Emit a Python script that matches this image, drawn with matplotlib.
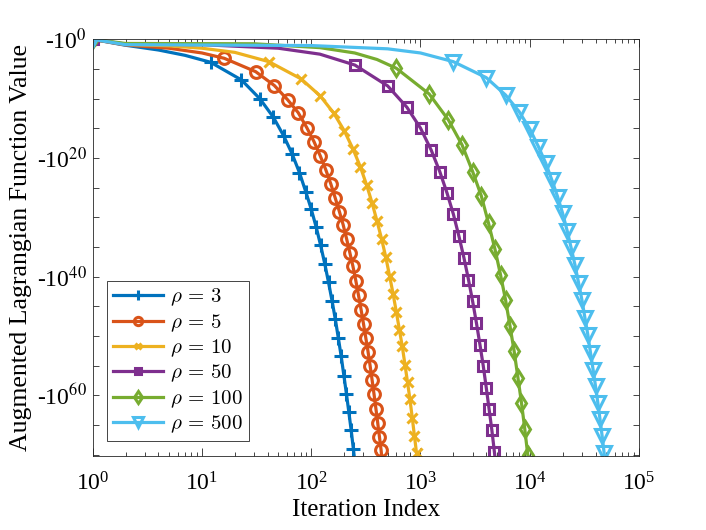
import numpy as np
import matplotlib.pyplot as plt
from matplotlib.font_manager import FontProperties
from matplotlib.ticker import FixedLocator, LogLocator, NullFormatter

plt.rcParams['font.family'] = ['Liberation Serif', 'DejaVu Serif']
plt.rcParams['mathtext.fontset'] = 'stix'

# rho values and marker spacing (iterations between markers)
rho = [3, 5, 10, 50, 100, 500]
mark_step = [11, 15, 40, 250, 600, 2000]

# exponent e of the function value -10^e, read at the markers (k = 1, 1+step, ...)
rho3_y = [0, 3.87, 6.85, 10.05, 13.13, 16.28, 19.36, 22.46, 25.66, 28.62, 31.65, 34.75,
          37.83, 40.97, 44.06, 47.14, 50.34, 53.43, 56.68, 59.76, 62.86, 65.89, 69.02]
rho5_y = [0, 3.20, 5.45, 7.79, 10.22, 12.36, 14.88, 17.24, 19.65, 22.00, 24.36, 26.77,
          29.03, 31.26, 33.67, 36.03, 38.28, 40.69, 43.17, 45.57, 47.98, 50.34, 52.64,
          55.05, 57.47, 59.88, 62.29, 64.65, 67.00, 69.26]
rho10_y = [0, 3.77, 6.68, 9.55, 12.46, 15.44, 18.47, 21.45, 24.53, 27.61, 30.71, 33.67,
           36.70, 39.85, 42.88, 45.96, 48.94, 51.75, 54.83, 57.81, 60.72, 63.80, 66.90, 69.81]
rho50_y = [0, 4.34, 7.86, 11.45, 14.98, 18.64, 22.29, 25.93, 29.49, 33.23, 36.87, 40.52,
           44.17, 47.81, 51.47, 55.00, 58.75, 62.41, 65.89, 69.60]
rho100_y = [0, 4.88, 9.21, 13.59, 17.80, 22.29, 26.38, 31.04, 35.35, 39.68, 43.89, 48.38,
            52.59, 57.07, 61.28, 65.66, 70.15]
rho500_y = [0, 3.77, 6.46, 9.38, 12.19, 15.10, 18.08, 20.88, 23.80, 26.55, 29.33, 32.27,
            35.25, 38.11, 41.08, 43.89, 46.97, 49.78, 52.86, 55.67, 58.48, 61.28, 64.09,
            66.90, 69.81]
mark_y = [rho3_y, rho5_y, rho10_y, rho50_y, rho100_y, rho500_y]

# extra points on the curve before the first marker
early_k = [[2, 4, 7], [2, 5, 10], [2, 5, 10, 20], [2, 10, 50, 120],
           [2, 30, 120, 250, 400], [2, 100, 500, 1000]]
early_y = [[1.0, 1.8, 2.7], [0.95, 1.5, 2.3], [0.85, 1.1, 1.5, 2.2], [0.8, 0.9, 1.5, 2.5],
           [0.7, 0.75, 1.4, 2.3, 3.4], [0.9, 1.05, 1.6, 2.3]]
# where each curve leaves the bottom of the axes
end_k = [247, 441, 926, 4790, 9650, 48300]
end_y = [70.2, 70.2, 70.2, 70.2, 70.2, 70.2]

colors = ['#0072BD', '#D95319', '#EDB120', '#7E2F8E', '#77AC30', '#4DBEEE']
markers = ['+', 'o', 'x', 's', 'd', 'v']
msizes = [10, 8.5, 6.5, 7, 8.5, 9.5]

fig = plt.figure(figsize=(7.06, 5.3), dpi=100)
ax = fig.add_axes([0.1313, 0.1402, 0.7738, 0.7856])

for i in range(len(rho)):
    my = np.array(mark_y[i])
    mk = 1 + mark_step[i] * np.arange(len(my))
    ek = early_k[i]
    x = np.concatenate([[mk[0]], ek, mk[1:], [end_k[i]]])
    y = np.concatenate([[my[0]], early_y[i], my[1:], [end_y[i]]])
    idx = [0] + list(range(1 + len(ek), len(ek) + len(my)))
    ax.plot(x, y, color=colors[i], lw=2.3, marker=markers[i], ms=msizes[i],
            mew=2.2, mfc='none', markevery=idx, label=r'$\rho\,=\,%d$' % rho[i])

ax.set_xscale('log')
ax.set_xlim(1, 1e5)
ax.set_ylim(70.2, 0)
ax.xaxis.set_major_locator(LogLocator(base=10, numticks=10))
ax.xaxis.set_minor_locator(LogLocator(base=10, subs=np.arange(2, 10), numticks=20))
ax.xaxis.set_minor_formatter(NullFormatter())

ax.yaxis.set_major_locator(FixedLocator([0, 20, 40, 60]))
ax.yaxis.set_minor_locator(FixedLocator([5, 10, 15, 25, 30, 35, 45, 50, 55, 65, 70]))
ax.set_yticklabels(['-10$^{0}$', '-10$^{20}$', '-10$^{40}$', '-10$^{60}$'])

ax.tick_params(which='both', direction='in', top=True, right=True, labelsize=17,
               color='#262626', width=0.6)
ax.tick_params(axis='x', which='major', length=5.5, pad=12)
ax.tick_params(axis='x', which='minor', length=3)
ax.tick_params(axis='y', which='both', length=4.5, pad=4)
for s in ax.spines.values():
    s.set_linewidth(0.6)
    s.set_color('#262626')

ax.set_xlabel('Iteration Index', fontsize=18)
ax.xaxis.set_label_coords(0.5, -0.104)
ax.set_ylabel('Augmented Lagrangian Function Value', fontsize=18.5, labelpad=4)

leg_font = FontProperties(family='Liberation Serif', size=15, math_fontfamily='cm')
leg = ax.legend(loc='lower left', bbox_to_anchor=(0.0265, 0.035), prop=leg_font,
                fancybox=False, framealpha=1, edgecolor='#262626', handlelength=2.4,
                labelspacing=0.18, borderpad=0.3, handletextpad=0.3, borderaxespad=0,
                markerscale=0.7)
leg.get_frame().set_linewidth(0.6)

fig.savefig('out.png', dpi=100)
